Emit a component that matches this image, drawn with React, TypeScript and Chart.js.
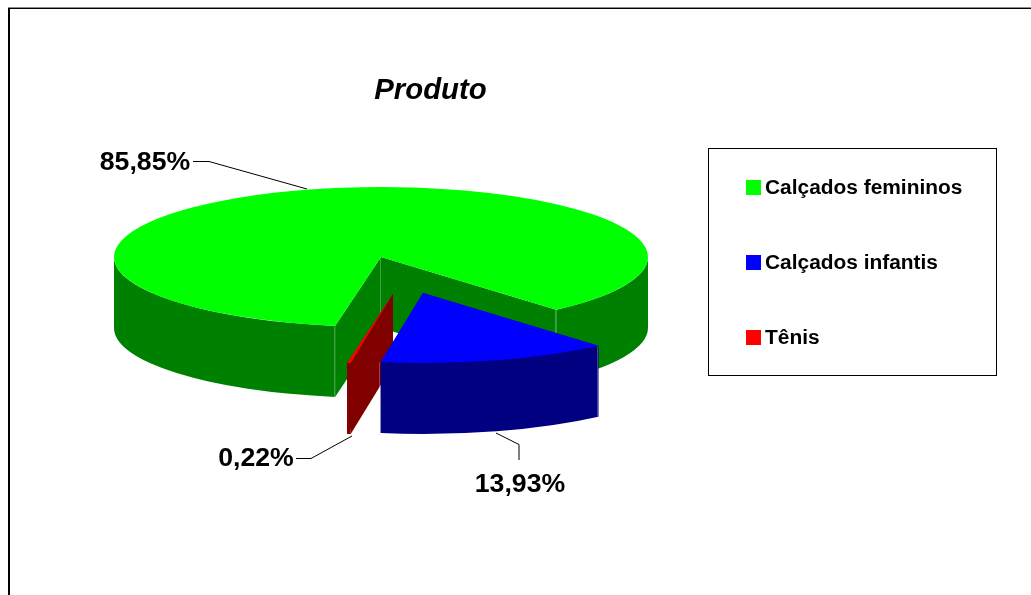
import React, { useEffect, useRef } from "react";
import { Chart, registerables } from "chart.js";

Chart.register(...registerables);

// ---- data ----
const categories = ["Calçados femininos", "Calçados infantis", "Tênis"];
const shares = [85.85, 13.93, 0.22];
const chartTitle = "Produto";

// ---- styles ----
const topColors = ["#00FF00", "#0000FF", "#FF0000"];
const sideColors = ["#008000", "#000080", "#800000"];
const FONT = "'Liberation Sans', Arial, sans-serif";

// ---- 3D look ----
const CENTER_Y = 257;
const RADIUS_Y = 70;
const DEPTH = 71;
const explode = [
  { x: 0, y: 0 },
  { x: 42, y: 36 },
  { x: 12, y: 37 },
];
const seamSlices = [0, 1];
const paintOrder = [0, 2, 1];

// ---- call-outs: text centre and leader polyline for each slice ----
const callouts = [
  { tx: 145, ty: 163, line: [[193, 161.5], [209, 161.5], [307, 189]] },
  { tx: 520, ty: 485, line: [[496, 433], [519, 444.5], [519, 460]] },
  { tx: 256, ty: 459, line: [[296, 458.5], [311, 458.5], [352, 436]] },
];

const formatShare = (v: number) => v.toFixed(2).replace(".", ",") + "%";

const pie3d = {
  id: "pie3d",
  afterLayout(chart: any) {
    const t = chart.titleBlock;
    if (t) {
      const h = t.bottom - t.top;
      t.left = 330;
      t.right = 531;
      t.top = 91 - h / 2;
      t.bottom = t.top + h;
    }
  },
  beforeDraw(chart: any) {
    const { ctx } = chart;
    ctx.save();
    ctx.fillStyle = "#8c8c8c";
    ctx.fillRect(8, 7, 1023, 1);
    ctx.fillStyle = "#000";
    ctx.fillRect(8, 8, 1023, 1);
    ctx.fillRect(8, 8, 2, 587);
    ctx.restore();
  },
  beforeDatasetsDraw(chart: any) {
    const { ctx } = chart;
    const arcs = chart.getDatasetMeta(0).data;
    for (const i of paintOrder) {
      const arc = arcs[i];
      const { x, y, startAngle: a0, endAngle: a1, outerRadius: R } = arc.getProps(
        ["x", "y", "startAngle", "endAngle", "outerRadius"],
        true
      );
      const cx = x + explode[i].x;
      const cy = CENTER_Y + explode[i].y;
      const px = (a: number) => cx + R * Math.cos(a);
      const py = (a: number) => cy + RADIUS_Y * Math.sin(a);

      ctx.save();
      ctx.fillStyle = sideColors[i];
      // outer wall: only the front half of the rim (sin > 0)
      for (let k = -2; k <= 4; k += 2) {
        const from = Math.max(a0, k * Math.PI);
        const to = Math.min(a1, (k + 1) * Math.PI);
        if (to <= from) continue;
        ctx.beginPath();
        ctx.ellipse(cx, cy, R, RADIUS_Y, 0, from, to);
        ctx.ellipse(cx, cy + DEPTH, R, RADIUS_Y, 0, to, from, true);
        ctx.closePath();
        ctx.fill();
      }
      // cut faces
      for (const a of [a0, a1]) {
        ctx.beginPath();
        ctx.moveTo(cx, cy);
        ctx.lineTo(px(a), py(a));
        ctx.lineTo(px(a), py(a) + DEPTH);
        ctx.lineTo(cx, cy + DEPTH);
        ctx.closePath();
        ctx.fill();
      }
      // seams
      if (seamSlices.includes(i)) {
        ctx.strokeStyle = "rgba(255,255,255,0.25)";
        ctx.lineWidth = 1;
        const pts =
          i === 0
            ? [[cx, cy], [px(a0), py(a0)], [px(a1), py(a1)]]
            : [[px(a0), py(a0)], [px(a1), py(a1)]];
        for (const [sx, sy] of pts) {
          const rx = Math.floor(sx) - 0.5;
          ctx.beginPath();
          ctx.moveTo(rx, sy);
          ctx.lineTo(rx, sy + DEPTH);
          ctx.stroke();
        }
      }
      ctx.restore();

      // top face: the library's arc element, squashed into perspective
      ctx.save();
      ctx.translate(cx, cy);
      ctx.scale(1, RADIUS_Y / R);
      ctx.translate(-x, -y);
      arc.draw(ctx);
      ctx.restore();
    }
    return false;
  },
  afterDraw(chart: any) {
    const { ctx } = chart;
    const values: number[] = chart.data.datasets[0].data;
    ctx.save();
    // call-outs
    ctx.strokeStyle = "#000";
    ctx.lineWidth = 1;
    ctx.fillStyle = "#000";
    ctx.font = `bold 26.67px ${FONT}`;
    ctx.textAlign = "center";
    ctx.textBaseline = "middle";
    values.forEach((v, i) => {
      const c = callouts[i];
      ctx.fillText(formatShare(v), c.tx, c.ty);
      ctx.beginPath();
      c.line.forEach(([lx, ly], k) => (k ? ctx.lineTo(lx, ly) : ctx.moveTo(lx, ly)));
      ctx.stroke();
    });
    // legend
    ctx.strokeStyle = "#000";
    ctx.strokeRect(708.5, 148.5, 288, 227);
    ctx.font = `bold 20.9px ${FONT}`;
    ctx.textAlign = "left";
    (chart.data.labels as string[]).forEach((label, i) => {
      const rowY = 187.5 + i * 75;
      ctx.fillStyle = chart.data.datasets[0].backgroundColor[i];
      ctx.fillRect(746, rowY - 7.5, 15, 15);
      ctx.fillStyle = "#000";
      ctx.fillText(label, 765, rowY + 0.5);
    });
    ctx.restore();
  },
};

export default function App() {
  const ref = useRef<HTMLCanvasElement>(null);
  useEffect(() => {
    const chart = new Chart(ref.current!, {
      type: "pie",
      data: {
        labels: categories,
        datasets: [{ data: shares, backgroundColor: topColors, borderWidth: 0 }],
      },
      options: {
        responsive: false,
        animation: false,
        rotation: 189.9,
        layout: { padding: { left: 114, right: 383 } },
        plugins: {
          legend: { display: false },
          tooltip: { enabled: false },
          title: {
            display: true,
            text: chartTitle,
            color: "#000",
            padding: 0,
            font: { family: FONT, size: 29.33, weight: "bold", style: "italic" },
          },
        },
      },
      plugins: [pie3d],
    } as any);
    return () => chart.destroy();
  }, []);
  return (
    <canvas
      ref={ref}
      width={1031}
      height={595}
      style={{ position: "fixed", left: 0, top: 0, display: "block", width: 1031, height: 595 }}
    />
  );
}
